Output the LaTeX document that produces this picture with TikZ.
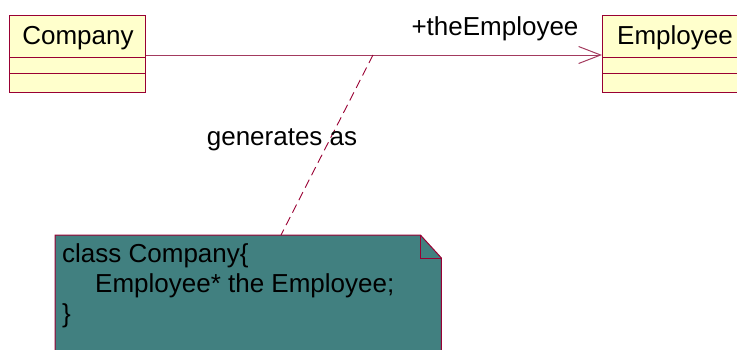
\documentclass[tikz,border=0pt]{standalone}
\usepackage{fontspec}
\setmainfont{Liberation Sans}
\usetikzlibrary{arrows.meta}
\definecolor{umlborder}{HTML}{990033}
\definecolor{umlline}{HTML}{A33A5E}
\definecolor{umlfill}{HTML}{FFFFCC}
\definecolor{notefill}{HTML}{418080}
\begin{document}
\begin{tikzpicture}[x=1pt,y=-1pt,
  font=\fontsize{26}{30}\selectfont,
  classbox/.style={draw=umlborder, fill=umlfill, line width=1pt, anchor=north west, inner sep=0pt},
  sep/.style={draw=umlborder, line width=1pt},
  assoc/.style={draw=umlline, line width=1pt},
  depend/.style={draw=umlborder, line width=0.9pt, dash pattern=on 9pt off 5pt},
  lbl/.style={inner sep=0pt, text=black}]
\useasboundingbox (0,0) rectangle (737,349);
\clip (0,0) rectangle (737,349);
% classes
\node[classbox, minimum width=136pt, minimum height=77pt] (company) at (9,15) {};
\draw[sep] ([yshift=-42pt]company.north west) -- ([yshift=-42pt]company.north east);
\draw[sep] ([yshift=-58pt]company.north west) -- ([yshift=-58pt]company.north east);
\node[lbl] (companyname) at (78,38) {Company};
\node[classbox, minimum width=150pt, minimum height=77pt] (employee) at (602,15) {};
\draw[sep] ([yshift=-42pt]employee.north west) -- ([yshift=-42pt]employee.north east);
\draw[sep] ([yshift=-58pt]employee.north west) -- ([yshift=-58pt]employee.north east);
\node[lbl] (employeename) at (675,38) {Employee};
% association
\coordinate (assocstart) at ([yshift=-40pt]company.north east);
\coordinate (assocend) at ([yshift=-40pt]employee.north west);
\draw[assoc, -{Straight Barb[length=22pt, width=17pt, line width=1pt]}] (assocstart) -- (assocend);
\node[lbl] (role) at (495,29) {+theEmployee};
% note
\node[anchor=north west, minimum width=386pt, minimum height=120pt, inner sep=0pt] (note) at (55,235) {};
\fill[notefill] (note.north west) -- ([xshift=-21pt]note.north east) -- ([yshift=-23pt]note.north east) -- (note.south east) -- (note.south west) -- cycle;
\draw[umlborder, line width=1pt] (note.south west) -- (note.north west) -- ([xshift=-21pt]note.north east) -- ([yshift=-23pt]note.north east) -- (note.south east);
\draw[umlborder, line width=1pt] ([xshift=-21pt]note.north east) -- ([xshift=-21pt,yshift=-23pt]note.north east) -- ([yshift=-23pt]note.north east);
\node[lbl, anchor=west] (line1) at (62,256) {class Company\{};
\node[lbl, anchor=west] (line2) at (95,286) {Employee* the Employee;};
\node[lbl, anchor=west] (line3) at (62,316) {\}};
% dependency
\coordinate (depstart) at (373,55);
\coordinate (depend) at ([xshift=226pt]note.north west);
\draw[depend] (depstart) -- (depend);
\node[lbl] (deplabel) at (282,140) {generates as};
\end{tikzpicture}
\end{document}
